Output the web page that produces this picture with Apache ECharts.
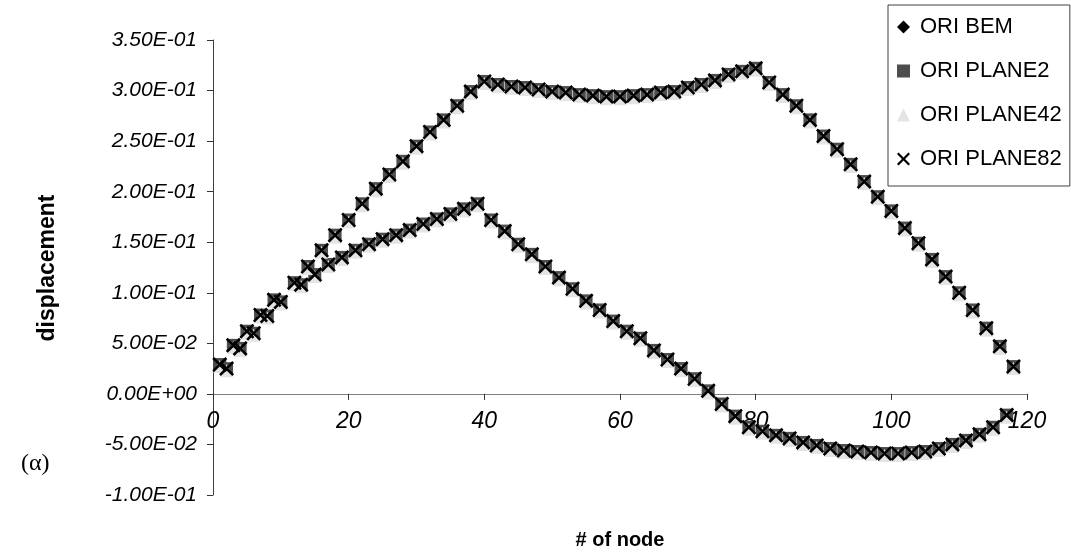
<!DOCTYPE html>
<html>
<head>
<meta charset="utf-8">
<script src="https://cdn.jsdelivr.net/npm/echarts@6/dist/echarts.min.js"></script>
<style>
  html, body { margin: 0; padding: 0; background: #fff; }
  #chart { width: 1071px; height: 556px; }
</style>
</head>
<body>
<div id="chart"></div>
<script>
// Node numbers of the two displacement branches
const upperNodes = [1,3,5,7,9,12,14,16,18,20,22,24,26,28,30,32,34,36,38,40,42,44,46,48,50,52,54,56,58,60,62,64,66,68,70,72,74,76,78,80,82,84,86,88,90,92,94,96,98,100,102,104,106,108,110,112,114,116,118];
const lowerNodes = [2,4,6,8,10,13,15,17,19,21,23,25,27,29,31,33,35,37,39,41,43,45,47,49,51,53,55,57,59,61,63,65,67,69,71,73,75,77,79,81,83,85,87,89,91,93,95,97,99,101,103,105,107,109,111,113,115,117];

// ORI BEM
const bemUpper = [0.029,0.048,0.062,0.078,0.093,0.110,0.126,0.142,0.157,0.172,0.188,0.203,0.217,0.230,0.245,0.259,0.271,0.285,0.299,0.309,0.306,0.304,0.303,0.301,0.299,0.298,0.296,0.295,0.294,0.294,0.295,0.296,0.298,0.299,0.303,0.306,0.310,0.316,0.319,0.322,0.308,0.296,0.285,0.271,0.255,0.242,0.227,0.210,0.195,0.181,0.164,0.149,0.133,0.116,0.100,0.083,0.065,0.047,0.027];
const bemLower = [0.025,0.045,0.060,0.077,0.091,0.108,0.118,0.128,0.135,0.142,0.148,0.153,0.157,0.162,0.168,0.173,0.178,0.183,0.188,0.172,0.161,0.148,0.138,0.126,0.115,0.104,0.092,0.083,0.072,0.062,0.055,0.043,0.034,0.025,0.015,0.003,-0.010,-0.022,-0.033,-0.037,-0.041,-0.044,-0.048,-0.051,-0.054,-0.056,-0.057,-0.058,-0.059,-0.059,-0.058,-0.057,-0.054,-0.050,-0.046,-0.040,-0.033,-0.021];

// ORI PLANE2
const plane2Upper = [0.029,0.048,0.062,0.078,0.093,0.110,0.126,0.142,0.157,0.172,0.188,0.203,0.217,0.230,0.245,0.259,0.271,0.285,0.299,0.309,0.306,0.304,0.303,0.301,0.299,0.298,0.296,0.295,0.294,0.294,0.295,0.296,0.298,0.299,0.303,0.306,0.310,0.316,0.319,0.322,0.308,0.296,0.285,0.271,0.255,0.242,0.227,0.210,0.195,0.181,0.164,0.149,0.133,0.116,0.100,0.083,0.065,0.047,0.027];
const plane2Lower = [0.025,0.045,0.060,0.077,0.091,0.108,0.118,0.128,0.135,0.142,0.148,0.153,0.157,0.162,0.168,0.173,0.178,0.183,0.188,0.172,0.161,0.148,0.138,0.126,0.115,0.104,0.092,0.083,0.072,0.062,0.055,0.043,0.034,0.025,0.015,0.003,-0.010,-0.022,-0.033,-0.037,-0.041,-0.044,-0.048,-0.051,-0.054,-0.056,-0.057,-0.058,-0.059,-0.059,-0.058,-0.057,-0.054,-0.050,-0.046,-0.040,-0.033,-0.021];

// ORI PLANE42
const plane42Upper = [0.027,0.046,0.060,0.076,0.091,0.108,0.124,0.140,0.155,0.170,0.186,0.201,0.215,0.228,0.243,0.257,0.269,0.283,0.297,0.307,0.304,0.302,0.301,0.299,0.297,0.296,0.294,0.293,0.292,0.292,0.293,0.294,0.296,0.297,0.301,0.304,0.308,0.314,0.317,0.320,0.306,0.294,0.283,0.269,0.253,0.240,0.225,0.208,0.193,0.179,0.162,0.147,0.131,0.114,0.098,0.081,0.063,0.045,0.025];
const plane42Lower = [0.023,0.043,0.058,0.075,0.089,0.106,0.116,0.126,0.133,0.140,0.146,0.151,0.155,0.160,0.166,0.171,0.176,0.181,0.186,0.170,0.159,0.146,0.136,0.124,0.113,0.102,0.090,0.081,0.070,0.060,0.053,0.041,0.032,0.023,0.013,0.001,-0.012,-0.024,-0.035,-0.039,-0.043,-0.046,-0.050,-0.053,-0.056,-0.058,-0.059,-0.060,-0.061,-0.061,-0.060,-0.059,-0.056,-0.052,-0.048,-0.042,-0.035,-0.023];

// ORI PLANE82
const plane82Upper = [0.029,0.048,0.062,0.078,0.093,0.110,0.126,0.142,0.157,0.172,0.188,0.203,0.217,0.230,0.245,0.259,0.271,0.285,0.299,0.309,0.306,0.304,0.303,0.301,0.299,0.298,0.296,0.295,0.294,0.294,0.295,0.296,0.298,0.299,0.303,0.306,0.310,0.316,0.319,0.322,0.308,0.296,0.285,0.271,0.255,0.242,0.227,0.210,0.195,0.181,0.164,0.149,0.133,0.116,0.100,0.083,0.065,0.047,0.027];
const plane82Lower = [0.025,0.045,0.060,0.077,0.091,0.108,0.118,0.128,0.135,0.142,0.148,0.153,0.157,0.162,0.168,0.173,0.178,0.183,0.188,0.172,0.161,0.148,0.138,0.126,0.115,0.104,0.092,0.083,0.072,0.062,0.055,0.043,0.034,0.025,0.015,0.003,-0.010,-0.022,-0.033,-0.037,-0.041,-0.044,-0.048,-0.051,-0.054,-0.056,-0.057,-0.058,-0.059,-0.059,-0.058,-0.057,-0.054,-0.050,-0.046,-0.040,-0.033,-0.021];

const seriesNames = ['ORI BEM', 'ORI PLANE2', 'ORI PLANE42', 'ORI PLANE82'];
const xTicks = { min: 0, max: 120, step: 20 };
const yTicks = { min: -0.1, max: 0.35, step: 0.05 };
const xTitle = '# of node';
const yTitle = 'displacement';
const panelTag = '(α)';

// plot box in pixels
const W = 1071, H = 556;
const gridBox = { left: 213, right: 44, top: 40, bottom: 61 };
const plotHeight = H - gridBox.top - gridBox.bottom;
// the node axis crosses the displacement axis at zero: shift it up from the plot bottom
const zeroLift = (0 - yTicks.min) / (yTicks.max - yTicks.min) * plotHeight;

// pair node numbers with displacement values, both branches in one series
function points(upper, lower) {
  return upperNodes.map((n, i) => [n, upper[i]])
    .concat(lowerNodes.map((n, i) => [n, lower[i]]));
}

// spreadsheet-style scientific label, e.g. 3.50E-01
function sci(v) {
  const parts = Number(v).toExponential(2).split('e');
  const ex = parseInt(parts[1], 10);
  return parts[0] + 'E' + (ex < 0 ? '-' : '+') + String(Math.abs(ex)).padStart(2, '0');
}

const CROSS = 'path://M0,1.7L1.7,0L7,5.3L12.3,0L14,1.7L8.7,7L14,12.3L12.3,14L7,8.7L1.7,14L0,12.3L5.3,7Z';
const FONT = '"Liberation Sans", Arial, Helvetica, sans-serif';

const chart = echarts.init(document.getElementById('chart'), null, { renderer: 'canvas' });

chart.setOption({
  backgroundColor: '#ffffff',
  animation: false,
  grid: Object.assign({ containLabel: false, outerBoundsMode: 'none' }, gridBox),
  xAxis: {
    type: 'value',
    min: xTicks.min, max: xTicks.max, interval: xTicks.step,
    offset: -zeroLift,
    axisLine: { onZero: false, lineStyle: { color: '#7f7f7f', width: 1 } },
    axisTick: { show: true, inside: false, length: 6, lineStyle: { color: '#333' } },
    axisLabel: { margin: 16, fontFamily: FONT, fontSize: 23, fontStyle: 'italic', color: '#000' },
    splitLine: { show: false }
  },
  yAxis: {
    type: 'value',
    min: yTicks.min, max: yTicks.max, interval: yTicks.step,
    axisLine: { show: true, lineStyle: { color: '#404040', width: 1 } },
    axisTick: { show: true, inside: false, length: 6, lineStyle: { color: '#333' } },
    axisLabel: { margin: 16, fontFamily: FONT, fontSize: 21, fontStyle: 'italic', color: '#000', formatter: sci },
    splitLine: { show: false }
  },
  legend: {
    orient: 'vertical',
    left: 888, top: 5,
    padding: [10, 8, 15, 9],
    itemGap: 20,
    itemWidth: 13, itemHeight: 13,
    borderColor: '#404040', borderWidth: 1,
    textStyle: { fontFamily: FONT, fontSize: 22, color: '#000', lineHeight: 24, padding: [0, 0, 0, 5] },
    data: seriesNames
  },
  graphic: [
    { type: 'text', left: 21, top: 452,
      style: { text: panelTag, font: '24px "Liberation Serif", "Times New Roman", serif', fill: '#000' } },
    { type: 'text', x: 620, y: 540,
      style: { text: xTitle, font: 'bold 20px ' + FONT, fill: '#000', textAlign: 'center', textVerticalAlign: 'middle' } },
    { type: 'text', x: 48, y: 268, rotation: Math.PI / 2,
      style: { text: yTitle, font: 'bold 23px ' + FONT, fill: '#000', textAlign: 'center', textVerticalAlign: 'middle' } }
  ],
  series: [
    { name: seriesNames[0], type: 'scatter', symbol: 'diamond', symbolSize: 12,
      itemStyle: { color: '#000', opacity: 1 }, data: points(bemUpper, bemLower) },
    { name: seriesNames[1], type: 'scatter', symbol: 'rect', symbolSize: 13,
      itemStyle: { color: '#4d4d4d', opacity: 1 }, data: points(plane2Upper, plane2Lower) },
    { name: seriesNames[2], type: 'scatter', symbol: 'triangle', symbolSize: 13,
      itemStyle: { color: '#e4e4e4', opacity: 1 }, data: points(plane42Upper, plane42Lower) },
    { name: seriesNames[3], type: 'scatter', symbol: CROSS, symbolSize: 15,
      itemStyle: { color: '#000', opacity: 1 }, data: points(plane82Upper, plane82Lower) }
  ]
});
</script>
</body>
</html>
